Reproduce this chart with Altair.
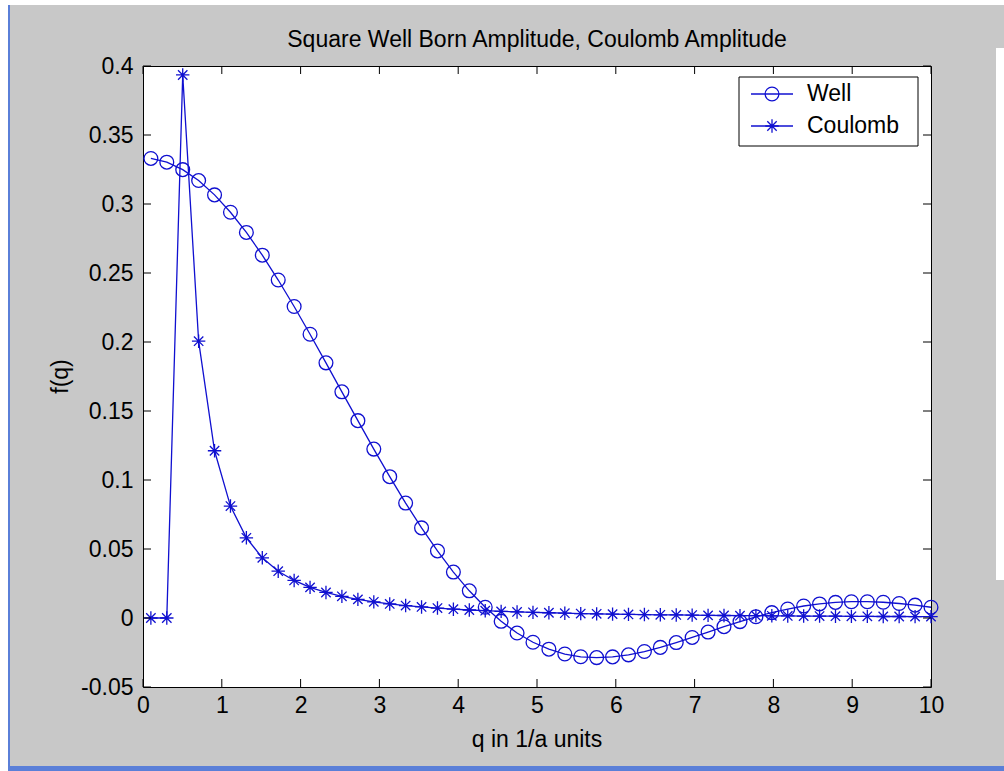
import altair as alt
import pandas as pd

# ---- data -------------------------------------------------------------
q = [0.100, 0.302, 0.504, 0.706, 0.908, 1.110, 1.312, 1.514, 1.716, 1.918,
     2.120, 2.322, 2.524, 2.727, 2.929, 3.131, 3.333, 3.535, 3.737, 3.939,
     4.141, 4.343, 4.545, 4.747, 4.949, 5.151, 5.353, 5.555, 5.757, 5.959,
     6.161, 6.363, 6.565, 6.767, 6.969, 7.171, 7.373, 7.576, 7.778, 7.980,
     8.182, 8.384, 8.586, 8.788, 8.990, 9.192, 9.394, 9.596, 9.798, 10.000]

well = [0.3330, 0.3303, 0.3249, 0.3170, 0.3066, 0.2940, 0.2794, 0.2629, 0.2449, 0.2257,
        0.2056, 0.1849, 0.1639, 0.1430, 0.1224, 0.1024, 0.0833, 0.0653, 0.0486, 0.0333,
        0.0197, 0.0078, -0.0024, -0.0109, -0.0176, -0.0226, -0.0261, -0.0281, -0.0287, -0.0282,
        -0.0267, -0.0243, -0.0213, -0.0178, -0.0141, -0.0102, -0.0063, -0.0026, 0.0009, 0.0039,
        0.0065, 0.0087, 0.0102, 0.0113, 0.0118, 0.0118, 0.0114, 0.0105, 0.0093, 0.0078]

coulomb = [0.0, 0.0, 0.3935, 0.2006, 0.1212, 0.0811, 0.0581, 0.0436, 0.0339, 0.0272,
           0.0222, 0.0185, 0.0157, 0.0135, 0.0117, 0.0102, 0.0090, 0.0080, 0.0072, 0.0064,
           0.0058, 0.0053, 0.0048, 0.0044, 0.0041, 0.0038, 0.0035, 0.0032, 0.0030, 0.0028,
           0.0026, 0.0025, 0.0023, 0.0022, 0.0021, 0.0019, 0.0018, 0.0017, 0.0017, 0.0016,
           0.0015, 0.0014, 0.0014, 0.0013, 0.0012, 0.0012, 0.0011, 0.0011, 0.0010, 0.0010]

series_names = ["Well", "Coulomb"]
x_ticks = [0, 1, 2, 3, 4, 5, 6, 7, 8, 9, 10]
y_ticks = [-0.05, 0, 0.05, 0.1, 0.15, 0.2, 0.25, 0.3, 0.35, 0.4]

title_text = "Square Well Born Amplitude, Coulomb Amplitude"
x_title = "q in 1/a units"
y_title = "f(q)"

# ---- styling ------------------------------------------------------------
W, H = 788, 621
FONT = "Liberation Sans"
FS = 23
BLUE = "#1010d0"
FIG_GRAY = "#c8c8c8"
TICK = 8
STAR = "M0,-1L0,1M-1,0L1,0M-0.7,-0.7L0.7,0.7M-0.7,0.7L0.7,-0.7"
CIRCLE_SIZE = 190
STAR_SIZE = 180

xs = alt.Scale(domain=[0, 10], nice=False, zero=False)
ys = alt.Scale(domain=[-0.05, 0.4], nice=False, zero=False)

well_df = pd.DataFrame({"q": q, "f": well})
coul_df = pd.DataFrame({"q": q, "f": coulomb})
xt_df = pd.DataFrame({"q": x_ticks})
yt_df = pd.DataFrame({"f": y_ticks})
one = pd.DataFrame({"k": [0]})

x_axis = alt.Axis(values=x_ticks, ticks=False, domain=False, grid=False, title=None,
                  labelFont=FONT, labelFontSize=FS, labelColor="#000",
                  labelPadding=7, labelFlush=False, labelOverlap=False)
y_axis = alt.Axis(values=y_ticks, ticks=False, domain=False, grid=False, title=None,
                  labelFont=FONT, labelFontSize=FS, labelColor="#000",
                  labelPadding=10, labelFlush=False, labelOverlap=False,
                  labelExpr="'' + datum.value")

X = alt.X("q:Q", scale=xs, axis=x_axis)
Y = alt.Y("f:Q", scale=ys, axis=y_axis)


def box(x0, x1, y0, y1, color):
    return alt.Chart(one).mark_rect(color=color).encode(
        x=alt.value(x0), x2=alt.value(x1), y=alt.value(y0), y2=alt.value(y1))


# window surroundings
chrome = [
    box(-143, 861, -66, -61, "white"),
    box(-143, -135, -66, 705, "white"),
    box(-135, -133, -61, 705, "#5a7fd8"),
    box(-135, 861, 700, 705, "#5a7fd8"),
    box(853, 861, -18, 514, "white"),
]

# data layers
well_line = alt.Chart(well_df).mark_line(color=BLUE, strokeWidth=1.3).encode(x=X, y=Y)
well_pts = alt.Chart(well_df).mark_point(
    shape="circle", filled=False, color=BLUE, size=CIRCLE_SIZE, strokeWidth=1.3,
    opacity=1).encode(x=X, y=Y)
coul_line = alt.Chart(coul_df).mark_line(color=BLUE, strokeWidth=1.3).encode(x=X, y=Y)
coul_pts = alt.Chart(coul_df).mark_point(
    shape=STAR, filled=False, color=BLUE, size=STAR_SIZE, strokeWidth=1.3,
    opacity=1).encode(x=X, y=Y)

# inward tick marks on all four sides
ticks = [
    alt.Chart(xt_df).mark_rule(color="black", strokeWidth=1).encode(
        x=X, y=alt.value(H), y2=alt.value(H - TICK)),
    alt.Chart(xt_df).mark_rule(color="black", strokeWidth=1).encode(
        x=X, y=alt.value(0), y2=alt.value(TICK)),
    alt.Chart(yt_df).mark_rule(color="black", strokeWidth=1).encode(
        y=Y, x=alt.value(0), x2=alt.value(TICK)),
    alt.Chart(yt_df).mark_rule(color="black", strokeWidth=1).encode(
        y=Y, x=alt.value(W), x2=alt.value(W - TICK)),
]


def label(text, x, y, angle=0):
    return alt.Chart(one).mark_text(
        text=text, font=FONT, fontSize=FS, color="#000", angle=angle,
        align="center", baseline="middle").encode(x=alt.value(x), y=alt.value(y))


titles = [
    label(title_text, W / 2, -26),
    label(x_title, W / 2, 674),
    label(y_title, -82, H / 2, angle=270),
]

# legend box with one row per series
LX0, LX1, LY0, LY1 = 596, 775, 11, 80
legend = [alt.Chart(one).mark_rect(fill="white", stroke="black", strokeWidth=1).encode(
    x=alt.value(LX0), x2=alt.value(LX1), y=alt.value(LY0), y2=alt.value(LY1))]
for i, (name, shape, sz) in enumerate(zip(series_names, ["circle", STAR],
                                          [CIRCLE_SIZE, STAR_SIZE])):
    yy = LY0 + 17 + i * 32
    legend.append(alt.Chart(one).mark_rule(color=BLUE, strokeWidth=1.3).encode(
        x=alt.value(LX0 + 12), x2=alt.value(LX0 + 54), y=alt.value(yy)))
    legend.append(alt.Chart(one).mark_point(
        shape=shape, filled=False, color=BLUE, size=sz, strokeWidth=1.3, opacity=1).encode(
        x=alt.value(LX0 + 33), y=alt.value(yy)))
    legend.append(alt.Chart(one).mark_text(
        text=name, font=FONT, fontSize=FS, color="#000", align="left",
        baseline="middle").encode(x=alt.value(LX0 + 68), y=alt.value(yy)))

chart = alt.layer(
    *chrome, well_line, well_pts, coul_line, coul_pts, *ticks, *titles, *legend
).properties(
    width=W, height=H, autosize="none",
    padding={"left": 143, "top": 66, "right": 73, "bottom": 84},
).configure(background=FIG_GRAY).configure_view(fill="white", stroke="black", strokeWidth=1)

chart.save("out.html", embed_options={"renderer": "svg", "actions": False})
